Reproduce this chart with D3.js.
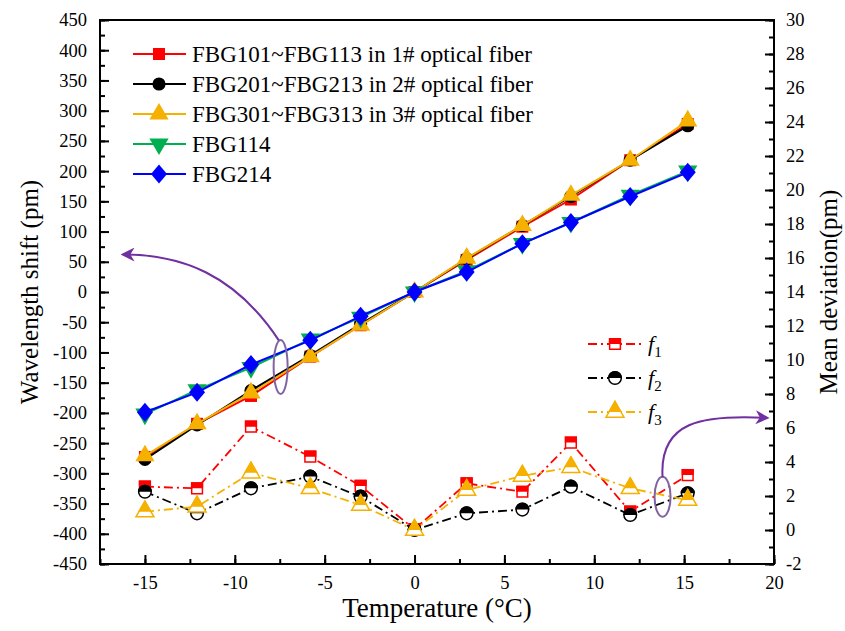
<!DOCTYPE html>
<html>
<head>
<meta charset="utf-8">
<script src="https://cdn.jsdelivr.net/npm/d3@7/dist/d3.min.js"></script>
<style>
  body { margin: 0; background: #fff; }
  svg { display: block; }
  text { font-family: "Liberation Serif", "DejaVu Serif", serif; }
</style>
</head>
<body>
<svg id="chart" width="845" height="631"></svg>
<script>
// temperature points (°C)
const temps = [-15, -12.1, -9.1, -5.8, -3, 0, 2.9, 6, 8.7, 12, 15.2];

// wavelength shift (pm), left axis
const fbg1 = [-273, -218, -172, -107, -55, 0, 53, 108, 153, 218, 278];
const fbg2 = [-277, -220, -163, -105, -53, 0, 55, 110, 158, 218, 275];
const fbg3 = [-271, -218, -167, -107, -55, 0, 56, 110, 160, 218, 283];
const fbg114 = [-202, -162, -125, -78, -42, 0, 35, 80, 115, 160, 200];
const fbg214 = [-199, -166, -120, -80, -40, 0, 33, 80, 115, 158, 198];

// mean deviation (pm), right axis
const f1 = [2.55, 2.45, 6.08, 4.31, 2.59, 0.05, 2.74, 2.25, 5.14, 1.08, 3.23];
const f2 = [2.25, 0.98, 2.45, 3.14, 1.96, 0, 0.98, 1.2, 2.55, 0.88, 2.16];
const f3 = [1.08, 1.37, 3.37, 2.45, 1.47, 0, 2.35, 3.18, 3.69, 2.45, 1.76];

// tick labels
const xTicks = [-15, -10, -5, 0, 5, 10, 15, 20];
const yLeftTicks = d3.range(-450, 451, 50);
const yRightTicks = d3.range(-2, 31, 2);

const mainNames = ["FBG101~FBG113 in 1# optical fiber", "FBG201~FBG213 in 2# optical fiber",
                   "FBG301~FBG313 in 3# optical fiber", "FBG114", "FBG214"];
const devNames = ["1", "2", "3"];

class ShiftChart {
    createChart() {
        const svg = d3.select("#chart");
        const left = 100, right = 774, top = 20, bottom = 564;

        const x = d3.scaleLinear().domain([-17.5, 20]).range([left, right]);
        const yL = d3.scaleLinear().domain([-450, 450]).range([bottom, top]);
        const yR = d3.scaleLinear().domain([-2, 30]).range([bottom, top]);

        const defs = svg.append("defs");
        // clip for the half filled symbols
        defs.append("clipPath").attr("id", "topHalf")
            .append("rect").attr("x", -12).attr("y", -12).attr("width", 24).attr("height", 12);

        // plain hyphen for negatives, like the original
        const fmt = d => String(d);

        // axes, ticks point inwards
        const axisStyle = g => {
            g.select(".domain").remove();
            g.selectAll("line").attr("stroke", "#000").attr("stroke-width", 2);
            g.selectAll("text").attr("font-size", 18.5).attr("fill", "#000")
                .attr("font-family", "Liberation Serif, serif");
        };

        svg.append("g").attr("transform", `translate(0,${bottom})`)
            .call(d3.axisBottom(x).tickValues(d3.range(-17.5, 20.1, 2.5)).tickFormat("").tickSize(-5))
            .call(axisStyle);
        svg.append("g").attr("transform", `translate(0,${bottom})`)
            .call(d3.axisBottom(x).tickValues(xTicks).tickFormat(fmt).tickSize(-9).tickPadding(12))
            .call(axisStyle);

        svg.append("g").attr("transform", `translate(${left},0)`)
            .call(d3.axisLeft(yL).tickValues(d3.range(-450, 451, 25)).tickFormat("").tickSize(-5))
            .call(axisStyle);
        svg.append("g").attr("transform", `translate(${left},0)`)
            .call(d3.axisLeft(yL).tickValues(yLeftTicks).tickFormat(fmt).tickSize(-9).tickPadding(13))
            .call(axisStyle);

        svg.append("g").attr("transform", `translate(${right},0)`)
            .call(d3.axisRight(yR).tickValues(d3.range(-2, 31, 1)).tickFormat("").tickSize(-5))
            .call(axisStyle);
        svg.append("g").attr("transform", `translate(${right},0)`)
            .call(d3.axisRight(yR).tickValues(yRightTicks).tickFormat(fmt).tickSize(-9).tickPadding(12))
            .call(axisStyle);

        svg.append("rect")
            .attr("x", left).attr("y", top).attr("width", right - left).attr("height", bottom - top)
            .attr("fill", "none").attr("stroke", "#000").attr("stroke-width", 2);

        // axis titles
        svg.append("text").attr("x", (left + right) / 2).attr("y", 617)
            .attr("text-anchor", "middle").attr("font-size", 27).text("Temperature (°C)");
        svg.append("text").attr("transform", `translate(38,${(top + bottom) / 2}) rotate(-90)`)
            .attr("text-anchor", "middle").attr("font-size", 25).text("Wavelength shift (pm)");
        svg.append("text").attr("transform", `translate(837,${(top + bottom) / 2}) rotate(-90)`)
            .attr("text-anchor", "middle").attr("font-size", 25).text("Mean deviation(pm)");

        const diamond = "M0,-9.5L8,0L0,9.5L-8,0Z";
        const sym = {
            square: d3.symbol(d3.symbolSquare, 144),
            circle: d3.symbol(d3.symbolCircle, 135),
            triangle: d3.symbol(d3.symbolTriangle, 160),
            diamond: () => diamond
        };

        // wavelength shift series
        const mainSeries = [
            {vals: fbg1, color: "#ff0000", shape: "square", rot: 0},
            {vals: fbg2, color: "#000000", shape: "circle", rot: 0},
            {vals: fbg3, color: "#f5b000", shape: "triangle", rot: 0},
            {vals: fbg114, color: "#00b050", shape: "triangle", rot: 180},
            {vals: fbg214, color: "#0000ff", shape: "diamond", rot: 0}
        ];
        const lineL = d3.line().x(d => x(d[0])).y(d => yL(d[1]));

        mainSeries.forEach(s => {
            const pts = temps.map((t, i) => [t, s.vals[i]]);
            svg.append("path").datum(pts).attr("d", lineL)
                .attr("fill", "none").attr("stroke", s.color).attr("stroke-width", 2);
            svg.append("g").selectAll("path").data(pts).enter().append("path")
                .attr("d", sym[s.shape])
                .attr("transform", d => `translate(${x(d[0])},${yL(d[1])}) rotate(${s.rot})`)
                .attr("fill", s.color);
        });

        // mean deviation series, half filled symbols
        const devSeries = [
            {vals: f1, color: "#ff0000", shape: "square"},
            {vals: f2, color: "#000000", shape: "circle"},
            {vals: f3, color: "#f5b000", shape: "triangle"}
        ];
        const devSym = {
            square: d3.symbol(d3.symbolSquare, 115),
            circle: d3.symbol(d3.symbolCircle, 125),
            triangle: d3.symbol(d3.symbolTriangle, 140)
        };
        const lineR = d3.line().x(d => x(d[0])).y(d => yR(d[1]));

        const halfMarker = (g, s) => {
            g.append("path").attr("d", devSym[s.shape])
                .attr("fill", "#fff").attr("stroke", s.color).attr("stroke-width", 1.5);
            g.append("path").attr("d", devSym[s.shape]).attr("clip-path", "url(#topHalf)")
                .attr("fill", s.color).attr("stroke", s.color).attr("stroke-width", 1.5);
        };

        devSeries.forEach(s => {
            const pts = temps.map((t, i) => [t, s.vals[i]]);
            svg.append("path").datum(pts).attr("d", lineR)
                .attr("fill", "none").attr("stroke", s.color).attr("stroke-width", 1.8)
                .attr("stroke-dasharray", "9,4,2,4");
            svg.append("g").selectAll("g").data(pts).enter().append("g")
                .attr("transform", d => `translate(${x(d[0])},${yR(d[1])})`)
                .each(function () { halfMarker(d3.select(this), s); });
        });

        // legend, wavelength shift
        const leg = svg.append("g").attr("transform", "translate(133,54)");
        mainSeries.forEach((s, i) => {
            const row = leg.append("g").attr("transform", `translate(0,${i * 30})`);
            row.append("line").attr("x1", 0).attr("x2", 53)
                .attr("stroke", s.color).attr("stroke-width", 2);
            row.append("path").attr("d", sym[s.shape])
                .attr("transform", `translate(26,0) rotate(${s.rot})`).attr("fill", s.color);
            row.append("text").attr("x", 59).attr("y", 8).attr("font-size", 23).text(mainNames[i]);
        });

        // legend, mean deviation
        const leg2 = svg.append("g").attr("transform", "translate(588,344)");
        devSeries.forEach((s, i) => {
            const row = leg2.append("g").attr("transform", `translate(0,${i * 34})`);
            row.append("line").attr("x1", 0).attr("x2", 54)
                .attr("stroke", s.color).attr("stroke-width", 1.8).attr("stroke-dasharray", "9,4,2,4");
            halfMarker(row.append("g").attr("transform", "translate(27,0)"), s);
            const t = row.append("text").attr("x", 60).attr("y", 7).attr("font-size", 22);
            t.append("tspan").attr("font-style", "italic").text("f");
            t.append("tspan").attr("font-size", 15).attr("dy", 6).text(devNames[i]);
        });

        // annotation ellipses and arrows
        const purple = "#7030a0";
        defs.append("marker").attr("id", "head")
            .attr("viewBox", "0 0 10 10").attr("refX", 8).attr("refY", 5)
            .attr("markerWidth", 7).attr("markerHeight", 7).attr("orient", "auto")
            .append("path").attr("d", "M0,0 L10,5 L0,10 L3,5 Z").attr("fill", purple);

        svg.append("ellipse").attr("cx", x(-7.45)).attr("cy", yL(-124)).attr("rx", 7).attr("ry", 27)
            .attr("fill", "none").attr("stroke", "#8064a2").attr("stroke-width", 2);
        svg.append("ellipse").attr("cx", x(13.8)).attr("cy", yR(1.95)).attr("rx", 8).attr("ry", 20)
            .attr("fill", "none").attr("stroke", "#8064a2").attr("stroke-width", 2);

        svg.append("path")
            .attr("d", `M${x(-7.55)},${yL(-80)} C${x(-10)},${yL(30)} ${x(-13)},${yL(62)} ${x(-16.2)},${yL(62)}`)
            .attr("fill", "none").attr("stroke", purple).attr("stroke-width", 2).attr("marker-end", "url(#head)");
        svg.append("path")
            .attr("d", `M${x(13.8)},${yR(3.1)} C${x(13.6)},${yR(6.4)} ${x(16)},${yR(6.8)} ${x(19.6)},${yR(6.6)}`)
            .attr("fill", "none").attr("stroke", purple).attr("stroke-width", 2).attr("marker-end", "url(#head)");
    }
}

document.addEventListener("DOMContentLoaded", () => {
    new ShiftChart().createChart();
});
</script>
</body>
</html>
